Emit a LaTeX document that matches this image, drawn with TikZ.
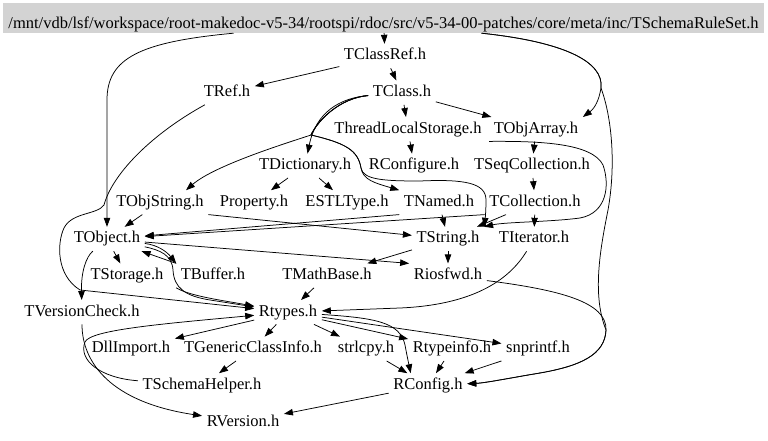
\documentclass[tikz,border=0pt]{standalone}
\usepackage{fontspec}
\setmainfont{Liberation Serif}
\usetikzlibrary{arrows.meta}
\definecolor{rootGray}{RGB}{211,211,211}
\begin{document}
\begin{tikzpicture}
[x=1bp,y=-1bp,
  includeDecorate/.style={-{Triangle[length=9bp,width=6.5bp]},line width=.75bp},%
  headerDecorate/.style={font=\fontsize{16.5bp}{18bp}\selectfont,inner xsep=4.5bp,
    text height=11.5bp,text depth=3.5bp,minimum height=24bp},
  rootDecorate/.style={font=\fontsize{16.5bp}{18bp}\selectfont,fill=rootGray,
    minimum width=761bp,inner xsep=0bp,inner ysep=4.7bp,text height=20.6bp,text depth=0bp}]
\useasboundingbox (0,0) rectangle (768,441);
%% the documented file
\node (root) at (383.5,18) [rootDecorate]
  {/mnt/vdb/lsf/workspace/root-makedoc-v5-34/rootspi/rdoc/src/v5-34-00-patches/core/meta/inc/TSchemaRuleSet.h};
%% included headers
\foreach \nodename/\x/\y in {
  TClassRef/385/56, TRef/227/92.6, TClass/402/92.6,
  ThreadLocalStorage/408/129.2, TObjArray/536/129.2,
  TDictionary/305/165.8, RConfigure/414/165.8, TSeqCollection/532/165.8,
  TObjString/160/202.4, Property/254/202.4, ESTLType/347/202.4,
  TNamed/439/202.4, TCollection/535/202.4,
  TObject/107/239, TString/448/239, TIterator/534/239,
  TStorage/127/275.6, TBuffer/213/275.6, TMathBase/327/275.6, Riosfwd/448/275.6,
  TVersionCheck/82/312.2, Rtypes/288/312.2,
  DllImport/131/348.8, TGenericClassInfo/253/348.8, strlcpy/366/348.8,
  Rtypeinfo/452/348.8, snprintf/538/348.8,
  TSchemaHelper/202/385.4, RConfig/428/385.4, RVersion/243/422}
{
  \node (\nodename) at (\x,\y) [headerDecorate] {\nodename.h};
}
%% straight includes
\path
\foreach \startnode/\endnode in {
  root/TClassRef, TClassRef/TRef, TClassRef/TClass, TClass/ThreadLocalStorage,
  TClass/TObjArray, ThreadLocalStorage/RConfigure, TObjArray/TSeqCollection,
  TSeqCollection/TCollection, TCollection/TIterator, TCollection/TString,
  TDictionary/Property, TDictionary/ESTLType, TNamed/TString, TObjString/TObject,
  TObject/TStorage, TString/Riosfwd, TString/TMathBase, TMathBase/Rtypes,
  Rtypes/DllImport, Rtypes/TGenericClassInfo, Rtypes/strlcpy, Rtypes/Rtypeinfo,
  Rtypes/snprintf, TGenericClassInfo/TSchemaHelper, strlcpy/RConfig,
  Rtypeinfo/RConfig, snprintf/RConfig, RConfig/RVersion}
{
  (\startnode) edge[includeDecorate] (\endnode)
};
\draw[includeDecorate] (TNamed.south west) -- (TObject);
\draw[includeDecorate] (TCollection.south west) -- (TObject);
\draw[includeDecorate] (TObjString.south east) -- (TString);
\draw[includeDecorate] (TObject) -- (Riosfwd.north west);
\draw[includeDecorate] (TBuffer.north west) -- (TObject);
%% curved includes
\draw[includeDecorate] ([xshift=-150bp]root.south) .. controls (140,42) and (107,58) .. (107,100) -- (TObject);
\draw[includeDecorate] ([xshift=98bp]root.south) .. controls (565,42) and (604,62) .. (601,88)
  .. controls (599,100) and (595,108) .. (TObjArray.north east);
\draw[includeDecorate] ([xshift=98bp]root.south) .. controls (565,42) and (604,62) .. (601,88)
  .. controls (612,118) and (616,165) .. (608,210) .. controls (600,250) and (592,295) .. (606,330)
  .. controls (605,355) and (580,366) .. (540,373) .. controls (510,378) and (485,383) .. (RConfig);
\draw[includeDecorate] (Riosfwd) .. controls (560,290) and (607,302) .. (606,330)
  .. controls (605,355) and (580,366) .. (540,373) .. controls (510,378) and (485,383) .. (RConfig);
\draw[includeDecorate] (TRef) .. controls (150,135) and (112,175) .. (104,205)
  .. controls (97,215) and (72,212) .. (64,228) .. controls (57,243) and (56,275) .. (80,290) -- (Rtypes);
\draw[includeDecorate] (TClass) .. controls (340,98) and (316,112) .. (TDictionary);
\draw[includeDecorate] (TClass) .. controls (340,98) and (318,120) .. (311,135)
  .. controls (290,142) and (215,165) .. ([xshift=26bp]TObjString.north);
\draw[includeDecorate] (TClass) .. controls (340,98) and (318,120) .. (311,135)
  .. controls (345,143) and (358,150) .. (361,168) .. controls (363,180) and (375,183) .. (TNamed.north west);
\draw[includeDecorate] (TClass) .. controls (340,98) and (318,120) .. (311,135)
  .. controls (345,143) and (358,150) .. (361,168) .. controls (363,180) and (385,181) .. (420,181)
  .. controls (465,179) and (486,183) .. (486,200) .. controls (486,212) and (485,220) .. (TString.north east);
\draw[includeDecorate] (TObjArray.south west) .. controls (540,141) and (592,143) .. (603,165)
  .. controls (610,185) and (607,213) .. (580,218) .. controls (550,222) and (505,222) .. (TString.north east);
\draw[includeDecorate] (TObject) .. controls (86,257) and (81,272) .. (TVersionCheck);
\draw[includeDecorate] (TObject) .. controls (158,245) and (167,252) .. (TBuffer.north west);
\draw[includeDecorate] (TObject) .. controls (160,250) and (172,255) .. (173,270)
  .. controls (174,288) and (185,296) .. (210,300) -- (Rtypes);
\draw[includeDecorate] (TBuffer.south west) .. controls (190,296) and (220,300) .. (Rtypes);
\draw[includeDecorate] (TVersionCheck) .. controls (82,362) and (110,402) .. (RVersion);
\draw[includeDecorate] (TSchemaHelper) .. controls (100,378) and (78,360) .. (85,342)
  .. controls (90,330) and (160,324) .. (Rtypes);
\draw[includeDecorate] (TIterator) .. controls (508,282) and (470,305) .. (400,308) -- (Rtypes);
\draw[includeDecorate] (Rtypes) .. controls (375,318) and (400,322) .. (405,345)
  .. controls (407,356) and (409,365) .. ([xshift=22bp]RConfig.north west);
\end{tikzpicture}
\end{document}
